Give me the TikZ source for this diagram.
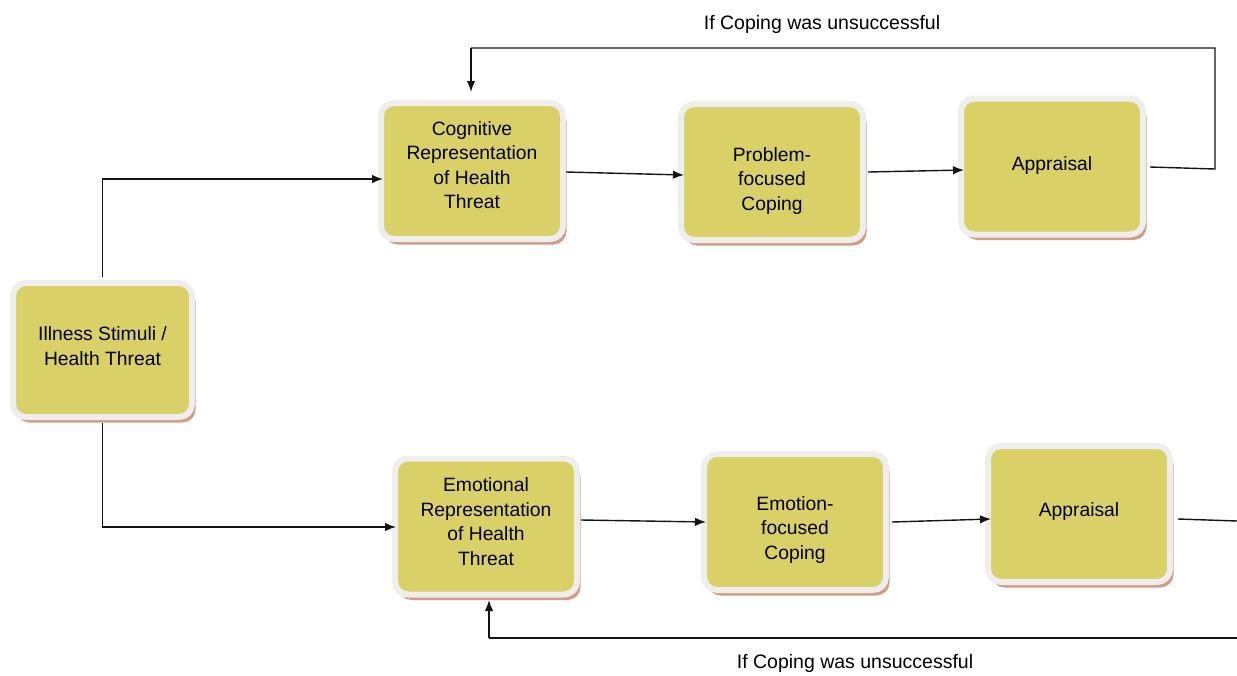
\documentclass[tikz,border=0pt]{standalone}
\usepackage{fontspec}
\setmainfont{Liberation Sans}
\usetikzlibrary{calc,arrows.meta,shadows}
\definecolor{boxfill}{RGB}{218,208,104}
\definecolor{rimgray}{RGB}{238,238,238}
\definecolor{shadowsalmon}{RGB}{212,156,134}
\definecolor{linegray}{RGB}{20,20,20}
\newcommand{\stxt}[2]{\raisebox{#1}[\height][\depth]{\begin{tabular}{@{}c@{}}#2\end{tabular}}}
\tikzset{
  stagebox/.style={draw=rimgray, fill=boxfill, line width=6pt, rounded corners=13pt,
    minimum width=182pt, minimum height=136pt, inner sep=2pt, outer sep=0pt,
    align=center, font=\fontsize{19.3}{24.6}\selectfont,
    drop shadow={shadow xshift=3.5pt, shadow yshift=-5.5pt, fill=shadowsalmon, opacity=1}},
  arr/.style={draw=linegray, line width=1.4pt, -{Latex[length=11pt,width=8.5pt]}},
  ln/.style={draw=linegray, line width=1.4pt},
  lbl/.style={font=\fontsize{19.5}{24}\selectfont, inner sep=0pt}
}
\begin{document}
\begin{tikzpicture}[x=1pt,y=-1pt]
\useasboundingbox (0,0) rectangle (1237,675);
\node[stagebox, minimum width=179pt, minimum height=134pt] (ill) at (102.5,350) {\stxt{2pt}{Illness Stimuli /\\Health Threat}};
\node[stagebox] (cog) at (472,171) {\stxt{4pt}{Cognitive\\Representation\\of Health\\Threat}};
\node[stagebox] (prob) at (772,172) {\stxt{-9pt}{Problem-\\focused\\Coping}};
\node[stagebox] (app1) at (1052,166.5) {\stxt{1pt}{Appraisal}};
\node[stagebox] (emo) at (486,526.5) {\stxt{3pt}{Emotional\\Representation\\of Health\\Threat}};
\node[stagebox] (emf) at (795,522) {\stxt{-8pt}{Emotion-\\focused\\Coping}};
\node[stagebox] (app2) at (1079,514) {\stxt{2pt}{Appraisal}};

\coordinate (topR) at (1215,169);
\coordinate (topRU) at (1215,48);
\coordinate (topL) at (471,48);
\coordinate (botR) at (1237,521);
\coordinate (fbR) at (1237,638);
\coordinate (fbL) at (489,638);

\draw[arr] ($(ill.north)+(0,-6)$) |- ($(cog.west)+(2,8)$);
\draw[arr] ($(ill.south)+(0,6)$) |- ($(emo.west)+(1,0.5)$);
\draw[arr] ($(cog.east)+(3,1)$) -- ($(prob.west)+(3,3)$);
\draw[arr] ($(prob.east)+(5,0)$) -- ($(app1.west)+(3,3.5)$);
\draw[ln] ($(app1.east)+(7,0.5)$) -- (topR) -- (topRU) -- (topL);
\draw[arr] (topL) -- ($(cog.north)+(-1,-11)$);
\draw[arr] ($(emo.east)+(4,-6.5)$) -- ($(emf.west)+(2,0)$);
\draw[arr] ($(emf.east)+(6,0)$) -- ($(app2.west)+(3,5)$);
\draw[ln] ($(app2.east)+(8,5)$) -- (botR);
\draw[ln] (fbR) -- (fbL);
\draw[arr] (fbL) -- ($(emo.south |- fbL)+(3,-38)$);

\node[lbl] (lt) at (822,24) {If Coping was unsuccessful};
\node[lbl] (lb) at (855,663) {If Coping was unsuccessful};
\end{tikzpicture}
\end{document}
